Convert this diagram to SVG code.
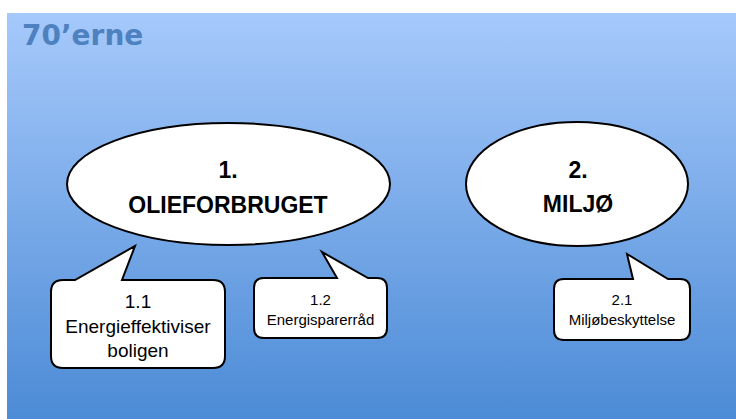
<svg xmlns="http://www.w3.org/2000/svg" width="736" height="419" viewBox="0 0 736 419">
<defs>
<linearGradient id="bg" x1="0" y1="0" x2="0" y2="1">
<stop offset="0" stop-color="#a6c9fb"/>
<stop offset="1" stop-color="#4c8bd6"/>
</linearGradient>
</defs>
<style>
.shape{fill:#fff;stroke:#000;stroke-width:2}
.big{font-family:"Liberation Sans",Arial,sans-serif;font-weight:bold;font-size:23px;fill:#000;text-anchor:middle}
.small{font-family:"Liberation Sans",Arial,sans-serif;font-size:15px;fill:#000;text-anchor:middle}
.mid{font-family:"Liberation Sans",Arial,sans-serif;font-size:19px;fill:#000;text-anchor:middle}
</style>
<rect x="0" y="0" width="736" height="419" fill="#fff"/>
<rect x="7" y="13" width="729" height="406" fill="url(#bg)"/>
<text x="22" y="45" font-family="'DejaVu Sans',sans-serif" font-weight="bold" font-size="28" fill="#4e81bf">70’erne</text>
<g id="node1">
<ellipse class="shape" cx="228.5" cy="184" rx="161.5" ry="61"/>
<text class="big" x="228" y="178">1.</text>
<text class="big" x="228" y="213">OLIEFORBRUGET</text>
</g>
<g id="node2">
<ellipse class="shape" cx="577" cy="184" rx="111" ry="62"/>
<text class="big" x="578" y="178">2.</text>
<text class="big" x="578" y="212">MILJØ</text>
</g>
<g id="connectors"></g>
<g id="callout11">
<path class="shape" d="M63,280 L75,280 L135,246 L122,280 L213,280 Q225,280 225,292 L225,356 Q225,368 213,368 L63,368 Q51,368 51,356 L51,292 Q51,280 63,280 Z"/>
<text class="mid" x="138" y="308">1.1</text>
<text class="mid" x="138" y="333">Energieffektiviser</text>
<text class="mid" x="138" y="357">boligen</text>
</g>
<g id="callout12">
<path class="shape" d="M264,278 L337,278 L322,252 L368,278 L377,278 Q387,278 387,288 L387,328 Q387,338 377,338 L264,338 Q254,338 254,328 L254,288 Q254,278 264,278 Z"/>
<text class="small" x="320.5" y="305">1.2</text>
<text class="small" x="320.5" y="325">Energisparerråd</text>
</g>
<g id="callout21">
<path class="shape" d="M564,279 L633,279 L627,254 L668,279 L680,279 Q690,279 690,289 L690,330 Q690,340 680,340 L564,340 Q554,340 554,330 L554,289 Q554,279 564,279 Z"/>
<text class="small" x="622" y="305">2.1</text>
<text class="small" x="622" y="325">Miljøbeskyttelse</text>
</g>
</svg>
